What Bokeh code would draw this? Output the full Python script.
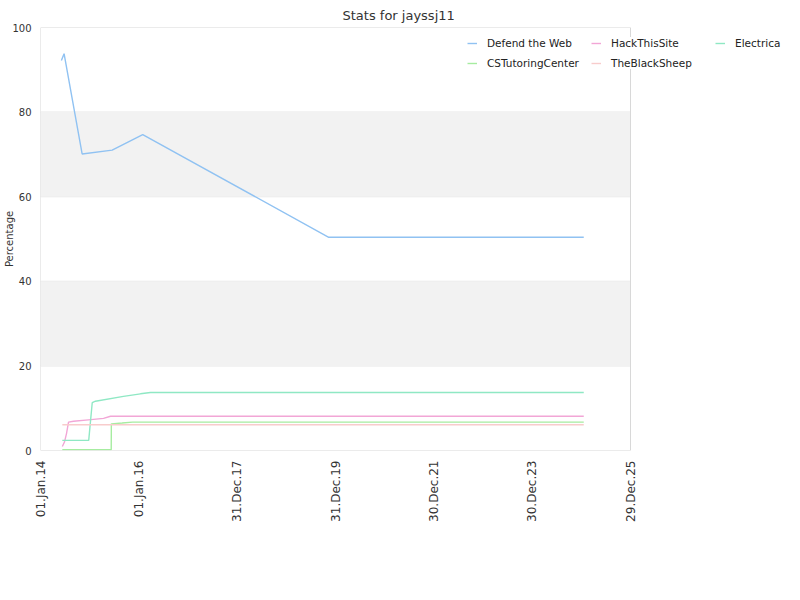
import math
import pandas as pd
from bokeh.plotting import figure
from bokeh.models import (Range1d, FixedTicker, DatetimeTickFormatter, BoxAnnotation,
                          Legend, LegendItem, ColumnDataSource)
from bokeh.embed import file_html
from bokeh.resources import INLINE

# ---- data ----
x_start = "2014-01-01"
x_end = "2025-12-29"
tick_dates = ["2014-01-01", "2016-01-01", "2017-12-31", "2019-12-31",
              "2021-12-30", "2023-12-30", "2025-12-29"]
y_ticks = [0, 20, 40, 60, 80, 100]
grid_vals = [20, 40, 60, 80]
band_ranges = [(20, 40), (60, 80)]

defend_dates = ["2014-06-05", "2014-06-25", "2014-11-06", "2015-06-17",
                "2016-01-30", "2019-11-11", "2025-01-16"]
defend_vals = [92.2, 93.8, 70.1, 71.0, 74.7, 50.4, 50.4]

hack_dates = ["2014-06-12", "2014-06-28", "2014-07-13", "2014-07-28", "2014-09-03",
              "2014-12-23", "2015-04-14", "2015-06-05", "2025-01-16"]
hack_vals = [0.95, 2.0, 4.0, 6.7, 6.9, 7.25, 7.6, 8.1, 8.1]

electrica_dates = ["2014-06-12", "2014-12-25", "2015-01-20", "2015-02-13",
                   "2015-09-09", "2016-01-13", "2016-03-27", "2025-01-16"]
electrica_vals = [2.4, 2.4, 11.3, 11.65, 12.8, 13.4, 13.7, 13.7]

cst_dates = ["2014-06-12", "2015-06-10", "2015-06-11", "2015-08-30",
             "2015-11-15", "2025-01-16"]
cst_vals = [0.2, 0.2, 6.3, 6.5, 6.7, 6.7]

sheep_dates = ["2014-06-12", "2025-01-16"]
sheep_vals = [6.1, 6.1]

series_names = ["Defend the Web", "HackThisSite", "Electrica", "CSTutoringCenter", "TheBlackSheep"]
series_colors = ["#90c2f2", "#f2a6d6", "#8fe8c4", "#a6eca0", "#f8cccc"]
series_data = [(defend_dates, defend_vals), (hack_dates, hack_vals),
               (electrica_dates, electrica_vals), (cst_dates, cst_vals),
               (sheep_dates, sheep_vals)]

FONT = "DejaVu Sans"

# layout: visible chart area spans 590 px of a 750 px frame, the rest holds the legend
t0 = pd.Timestamp(x_start)
t1 = pd.Timestamp(x_end)
frame_px, chart_px = 750, 590
t_ext = t0 + (t1 - t0) * (frame_px / chart_px)

p = figure(width=800, height=600, x_axis_type="datetime",
           output_backend="svg", toolbar_location=None,
           min_border_left=40, min_border_right=10, min_border_top=27, min_border_bottom=150,
           x_range=Range1d(t0, t_ext), y_range=Range1d(0, 100))

p.title.text = "Stats for jayssj11"
p.title.align = "left"
p.title.offset = 302
p.title.text_font = FONT
p.title.text_font_size = "13px"
p.title.text_font_style = "normal"
p.title.text_color = "#333333"
p.title.standoff = 9

p.background_fill_color = "white"
p.border_fill_color = "white"
p.outline_line_color = None

for lo, hi in band_ranges:
    p.add_layout(BoxAnnotation(bottom=lo, top=hi, left=t0, right=t1, fill_color="#f2f2f2",
                               fill_alpha=1, line_color=None, level="underlay"))

p.xgrid.visible = False
p.ygrid.visible = False
p.segment(x0=[t0] * len(grid_vals), x1=[t1] * len(grid_vals), y0=grid_vals, y1=grid_vals,
          line_color="#e0e0e0", line_width=1, level="underlay")
p.add_layout(BoxAnnotation(bottom=0, top=100, left=t0, right=t1, fill_alpha=0,
                           line_color="#d8d8d8", line_alpha=1, line_width=1, level="underlay"))

# axes
p.xaxis.ticker = FixedTicker(ticks=[pd.Timestamp(d).value / 1e6 for d in tick_dates])
fmt = "%d.%b.%y"
p.xaxis.formatter = DatetimeTickFormatter(years=fmt, months=fmt, days=fmt, hours=fmt,
                                          minutes=fmt, seconds=fmt, milliseconds=fmt,
                                          hourmin=fmt, minsec=fmt, microseconds=fmt)
p.xaxis.major_label_orientation = math.pi / 2
p.xaxis.major_label_standoff = 10
p.yaxis.ticker = FixedTicker(ticks=y_ticks)
for ax in (p.xaxis, p.yaxis):
    ax.axis_line_color = None
    ax.major_tick_line_color = None
    ax.minor_tick_line_color = None
    ax.major_tick_out = 0
    ax.major_tick_in = 0
    ax.minor_tick_out = 0
    ax.minor_tick_in = 0
    ax.major_label_text_font = FONT
    ax.major_label_text_color = "#333333"
p.xaxis.major_label_text_font_size = "12px"
p.yaxis.major_label_text_font_size = "10px"
p.yaxis.major_label_standoff = 9
p.yaxis.axis_label = "Percentage"
p.yaxis.axis_label_text_font = FONT
p.yaxis.axis_label_text_font_size = "10px"
p.yaxis.axis_label_text_font_style = "normal"
p.yaxis.axis_label_text_color = "#333333"
p.yaxis.axis_label_standoff = -6

items = []
for name, color, (dates, vals) in zip(series_names, series_colors, series_data):
    src = ColumnDataSource(dict(x=pd.to_datetime(dates), y=vals))
    r = p.line("x", "y", source=src, line_color=color, line_width=1.4)
    items.append(LegendItem(label=name, renderers=[r]))

legend = Legend(items=items, location=(427, 381), orientation="horizontal", ncols=3,
                glyph_width=10, glyph_height=10, label_standoff=10, spacing=8,
                padding=5, margin=0, label_height=10, label_width=96,
                label_text_font=FONT, label_text_font_size="10.5px", label_text_color="#222222",
                border_line_color=None, background_fill_color="white", background_fill_alpha=1)
p.add_layout(legend, "center")

open("out.html", "w").write(file_html(p, INLINE))
